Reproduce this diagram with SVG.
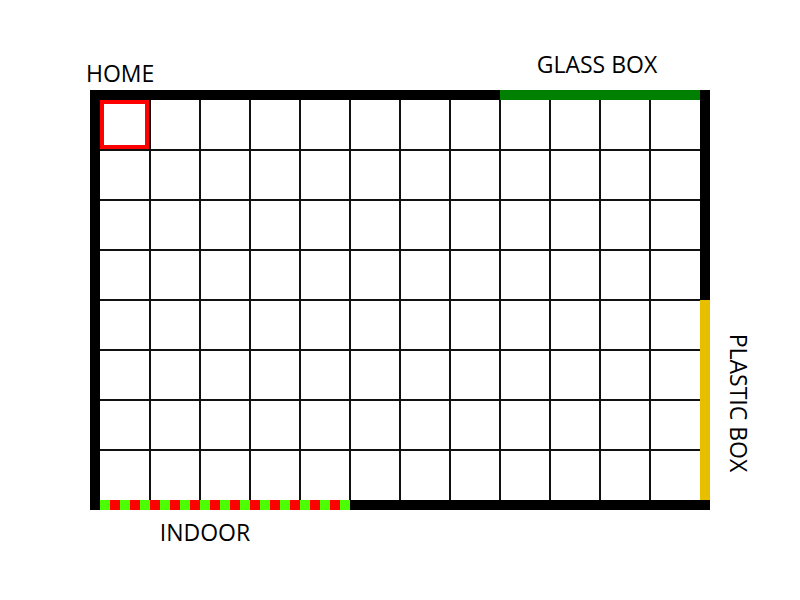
<svg xmlns="http://www.w3.org/2000/svg" width="800" height="600" viewBox="0 0 800 600">
<defs>
<style>
.lbl{font-family:"Open Sans","Liberation Sans",sans-serif;font-size:23px;fill:#000}
.grid line{stroke:#111;stroke-width:2}
</style>
<pattern id="indoor" x="100" y="500" width="20" height="10" patternUnits="userSpaceOnUse">
<rect x="0" y="0" width="10" height="10" fill="#4CFF00"/>
<rect x="10" y="0" width="10" height="10" fill="#FF0000"/>
</pattern>
</defs>
<rect width="800" height="600" fill="#fff"/>
<g id="frame">
<rect x="90" y="90" width="620" height="420" fill="#000"/>
<rect x="100" y="100" width="600" height="400" fill="#fff"/>
</g>
<g id="grid" class="grid">
<line x1="150" y1="100" x2="150" y2="500"/>
<line x1="200" y1="100" x2="200" y2="500"/>
<line x1="250" y1="100" x2="250" y2="500"/>
<line x1="300" y1="100" x2="300" y2="500"/>
<line x1="350" y1="100" x2="350" y2="500"/>
<line x1="400" y1="100" x2="400" y2="500"/>
<line x1="450" y1="100" x2="450" y2="500"/>
<line x1="500" y1="100" x2="500" y2="500"/>
<line x1="550" y1="100" x2="550" y2="500"/>
<line x1="600" y1="100" x2="600" y2="500"/>
<line x1="650" y1="100" x2="650" y2="500"/>
<line x1="100" y1="150" x2="700" y2="150"/>
<line x1="100" y1="200" x2="700" y2="200"/>
<line x1="100" y1="250" x2="700" y2="250"/>
<line x1="100" y1="300" x2="700" y2="300"/>
<line x1="100" y1="350" x2="700" y2="350"/>
<line x1="100" y1="400" x2="700" y2="400"/>
<line x1="100" y1="450" x2="700" y2="450"/>
</g>
<g id="glass-box">
<rect x="500" y="90" width="200" height="10" fill="#008000"/>
<text class="lbl" x="597" y="73" text-anchor="middle">GLASS BOX</text>
</g>
<g id="plastic-box">
<rect x="700" y="300" width="10" height="200" fill="#E6C000"/>
<text class="lbl" transform="translate(730,403) rotate(90)" text-anchor="middle">PLASTIC BOX</text>
</g>
<g id="indoor-strip">
<rect x="100" y="500" width="250" height="10" fill="url(#indoor)"/>
<text class="lbl" x="205" y="541" text-anchor="middle">INDOOR</text>
</g>
<g id="home">
<rect x="102" y="102" width="45" height="45" fill="#fff" stroke="#FF0000" stroke-width="4"/>
<text class="lbl" x="86" y="82">HOME</text>
</g>
</svg>
